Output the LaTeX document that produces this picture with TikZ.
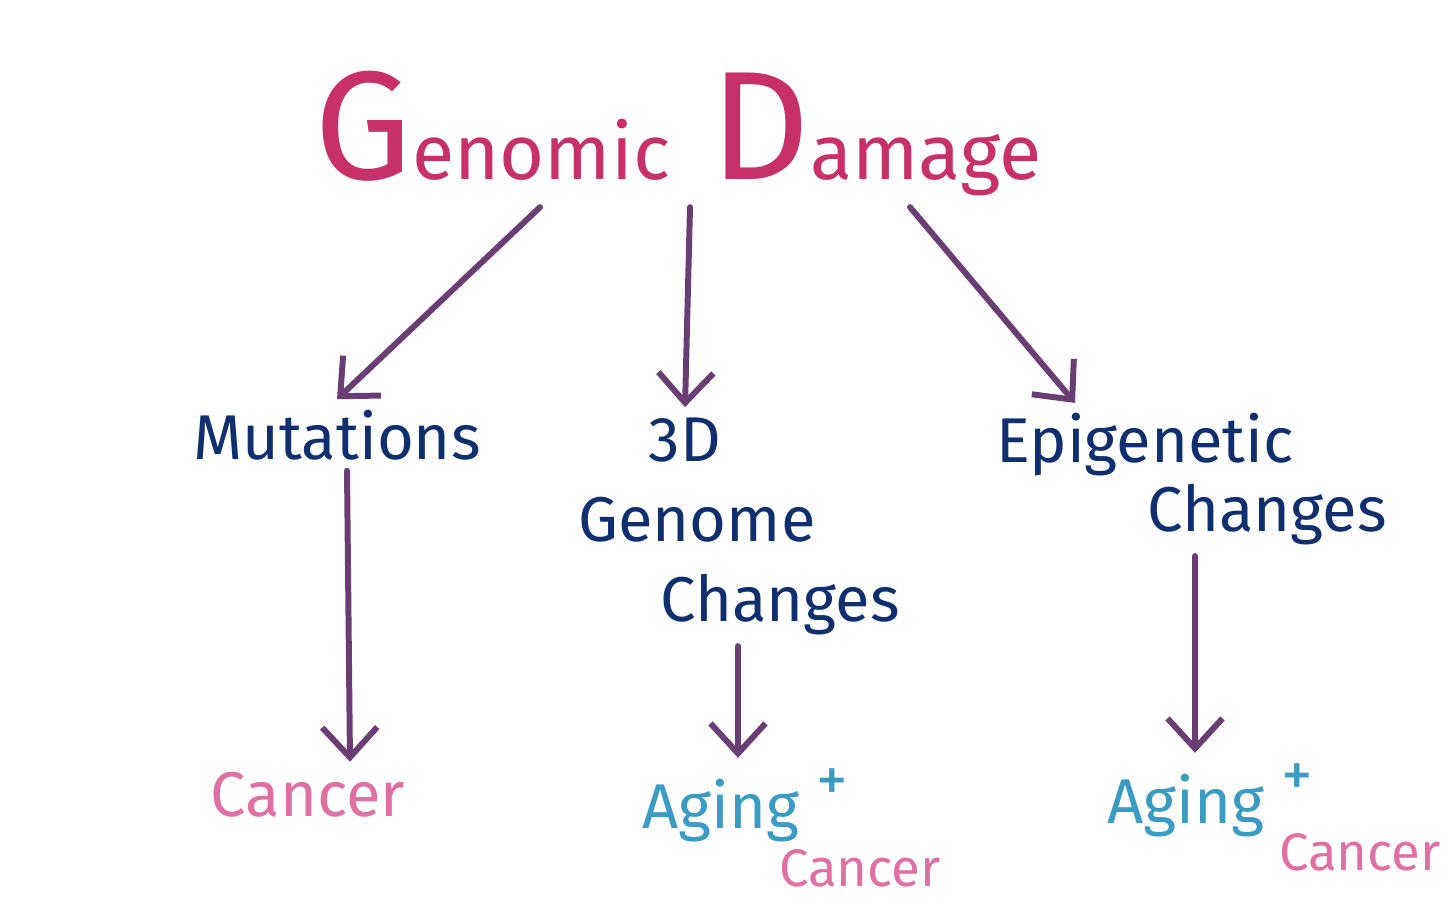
\documentclass[tikz,border=0pt]{standalone}
\usepackage{fontspec}
\setmainfont{Fira Sans}
\usepackage{tikz}
\usetikzlibrary{arrows.meta, positioning}
\definecolor{titlepink}{HTML}{C8306A}
\definecolor{arrowpurple}{HTML}{6A3D74}
\definecolor{navy}{HTML}{0F2F6E}
\definecolor{teal}{HTML}{3A9BC3}
\definecolor{softpink}{HTML}{E070A3}
\tikzstyle{heading} = [text=titlepink, anchor=base, inner sep=1mm]
\tikzstyle{effect} = [text=navy, font=\fontsize{18}{20}\selectfont, inner sep=1mm]
\tikzstyle{cancer} = [text=softpink, font=\fontsize{18}{20}\selectfont, inner sep=1mm]
\tikzstyle{smallcancer} = [text=softpink, font=\fontsize{15}{18}\selectfont, inner sep=1mm]
\tikzstyle{aging} = [text=teal, font=\fontsize{18}{20}\selectfont, inner sep=1mm]
\tikzstyle{arrow} = [line width=1.7pt, draw=arrowpurple, line cap=round, -{Straight Barb[length=3mm,width=5.5mm]}]

\begin{document}
\begin{tikzpicture}
			\useasboundingbox[fill=white] (0,0) rectangle (14.56,-9.21);
			\node (title) [heading] at (6.78,-1.8) {{\fontsize{44}{50}\selectfont G}{\fontsize{22}{26}\selectfont enomic\ \ }{\fontsize{44}{50}\selectfont D}{\fontsize{22}{26}\selectfont amage}};
			
			\node (mut) [effect] at (3.37,-4.35) {Mutations};
			\node (g3d) [effect] at (6.85,-4.4) {3D};
			\node (genome) [effect] at (6.97,-5.2) {Genome};
			\node (chg3d) [effect] at (7.8,-6.05) {Changes};
			\node (epi) [effect] at (11.45,-4.45) {Epigenetic};
			\node (chgepi) [effect] at (12.67,-5.15) {Changes};
			
			\node (cancer1) [cancer] at (3.08,-7.95) {Cancer};
			\node (aging2) [aging] at (7.45,-8.05) {Aging\ \raisebox{0.8ex}{+}};
			\node (cancer2) [smallcancer] at (8.6,-8.68) {Cancer};
			\node (aging3) [aging] at (12.1,-8.0) {Aging\ \raisebox{0.8ex}{+}};
			\node (cancer3) [smallcancer] at (13.6,-8.52) {Cancer};
			
			\draw [arrow] ([xshift=-1.38cm]title.south) -- (mut.north);
			\draw [arrow] ([xshift=0.12cm]title.south) -- (g3d.north);
			\draw [arrow] ([xshift=2.32cm]title.south) -- ([xshift=-0.7cm]epi.north);
			\draw [arrow] ([xshift=0.1cm]mut.south) -- ([xshift=0.42cm]cancer1.north);
			\draw [arrow] ([xshift=-0.42cm]chg3d.south) -- ([xshift=-0.42cm]chg3d.south |- aging2.north);
			\draw [arrow] ([xshift=-0.72cm]chgepi.south) -- ([xshift=-0.72cm]chgepi.south |- aging3.north);
\end{tikzpicture}
\end{document}
